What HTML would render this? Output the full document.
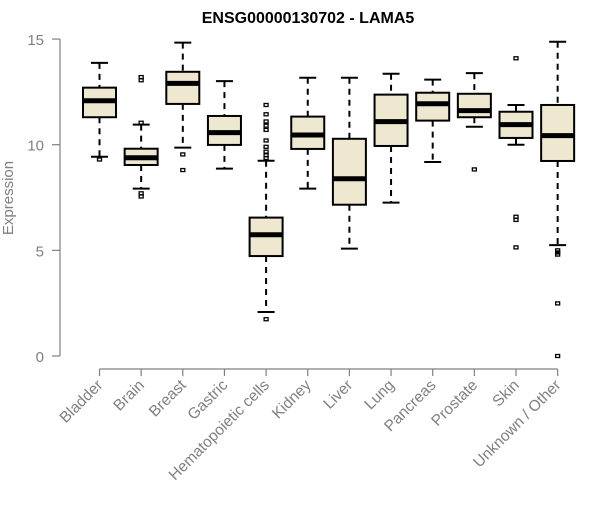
<!DOCTYPE html>
<html><head><meta charset="utf-8"><style>
body{margin:0;background:#fff;font-family:"Liberation Sans",sans-serif;}
svg text{font-family:"Liberation Sans",sans-serif;}
</style></head><body>
<svg id="chart" width="600" height="500" xmlns="http://www.w3.org/2000/svg">
<text x="308" y="23" text-anchor="middle" font-size="16" font-weight="bold">ENSG00000130702 - LAMA5</text>
<text transform="translate(13,198) rotate(-90)" text-anchor="middle" font-size="15" fill="#808080">Expression</text>
<g id="axes"></g><g id="boxes"></g>
</svg>
<script>
const categories=["Bladder","Brain","Breast","Gastric","Hematopoietic cells","Kidney","Liver","Lung","Pancreas","Prostate","Skin","Unknown / Other"];
const lowWhisker=[9.43,7.92,9.86,8.87,2.08,7.92,5.08,7.26,9.18,10.85,10.0,5.25];
const q1=[11.3,9.04,11.93,9.99,4.73,9.8,7.16,9.94,11.14,11.3,10.32,9.23];
const medians=[12.08,9.38,12.9,10.57,5.74,10.46,8.39,11.09,11.94,11.61,10.95,10.43];
const q3=[12.7,9.81,13.45,11.36,6.55,11.33,10.28,12.37,12.46,12.41,11.56,11.88];
const highWhisker=[13.87,10.95,14.83,13.01,9.24,13.17,13.17,13.36,13.08,13.39,11.88,14.87];
const outliers=[[9.3],[13.2,13.05,11.04,7.7,7.55],[9.54,8.8],[],[1.74,11.88,11.44,11.1,10.9,10.7,10.2,9.9,9.67,9.5,9.37],[],[],[],[],[8.83],[14.09,6.59,6.44,5.14],[5.0,4.9,4.8,2.49,0.0]];
const yTicks=[0,5,10,15];
const NS="http://www.w3.org/2000/svg";
const y=v=>356-v*21.13;
const x=i=>99.5+i*41.65;
function mk(tag,attrs,parent){const e=document.createElementNS(NS,tag);for(const k in attrs)e.setAttribute(k,attrs[k]);parent.appendChild(e);return e;}
const axes=document.getElementById('axes'),boxes=document.getElementById('boxes');
let l=mk('line',{x1:60,x2:60,y1:y(15),y2:y(0),stroke:'#808080','stroke-width':1.2},axes);


yTicks.forEach(t=>{
 const tk=mk('line',{x1:52,x2:60,y1:y(t),y2:y(t),stroke:'#808080','stroke-width':1.2},axes);
 
 
 const tx=mk('text',{x:44,y:y(t)+6,'text-anchor':'end','font-size':15,fill:'#808080'},axes);tx.textContent=t;
 
 
});
l=mk('line',{x1:x(0),x2:x(categories.length-1),y1:369,y2:369,stroke:'#808080','stroke-width':1.2},axes);


categories.forEach((c,i)=>{
 const cx=x(i);
 const tk=mk('line',{x1:cx,x2:cx,y1:369,y2:376,stroke:'#808080','stroke-width':1.2},axes);
 
 
 const tx=mk('text',{transform:`translate(${cx+4},${386}) rotate(-45)`,'text-anchor':'end','font-size':15.5,fill:'#808080'},axes);tx.textContent=c;
 
 
 const g=mk('g',{},boxes);
 
 
 mk('line',{x1:cx,x2:cx,y1:y(highWhisker[i]),y2:y(q3[i]),stroke:'#000','stroke-width':2,'stroke-dasharray':'6,5'},g);
 mk('line',{x1:cx,x2:cx,y1:y(q1[i]),y2:y(lowWhisker[i]),stroke:'#000','stroke-width':2,'stroke-dasharray':'6,5'},g);
 mk('line',{x1:cx-8.5,x2:cx+8.5,y1:y(highWhisker[i]),y2:y(highWhisker[i]),stroke:'#000','stroke-width':2},g);
 mk('line',{x1:cx-8.5,x2:cx+8.5,y1:y(lowWhisker[i]),y2:y(lowWhisker[i]),stroke:'#000','stroke-width':2},g);
 mk('rect',{x:cx-16.5,y:y(q3[i]),width:33,height:y(q1[i])-y(q3[i]),fill:'#ede8cf',stroke:'#000','stroke-width':2},g);
 mk('line',{x1:cx-16.5,x2:cx+16.5,y1:y(medians[i]),y2:y(medians[i]),stroke:'#000','stroke-width':5},g);
 outliers[i].forEach(o=>{
  const p=mk('rect',{x:cx-2,y:y(o)-1.5,width:4,height:3,fill:'none',stroke:'#000','stroke-width':1.3},g);
  
  
 });
});
</script>
</body></html>
